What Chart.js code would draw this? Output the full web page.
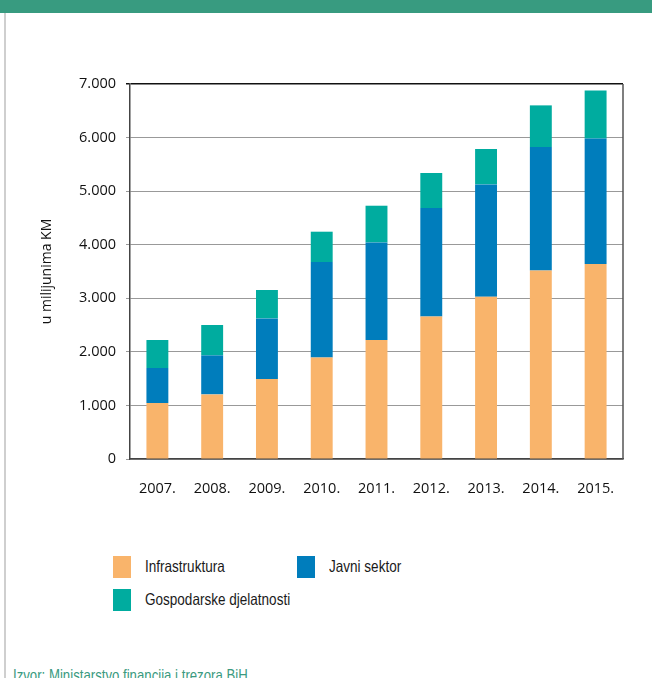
<!DOCTYPE html>
<html>
<head>
<meta charset="utf-8">
<script src="https://cdn.jsdelivr.net/npm/chart.js@4/dist/chart.umd.min.js"></script>
<style>
  body { margin:0; width:652px; height:678px; overflow:hidden; background:#fff; position:relative; font-family:"Open Sans", sans-serif; }
  #band { position:absolute; left:0; top:0; width:652px; height:13px; background:#389b80; }
  #frame { position:absolute; left:4px; top:13px; width:2px; height:665px; background:#cfcfcf; }
  #wrap { position:absolute; left:0; top:0; width:652px; height:520px; }
  #legend { position:absolute; left:0; top:0; font-family:"Liberation Sans", sans-serif; font-size:16.5px; color:#1a1a1a; }
  .item { position:absolute; white-space:nowrap; }
  .item span.box { position:absolute; left:0; top:0; width:18px; height:22px; }
  .item span.txt { position:absolute; left:32px; top:1px; transform:scaleX(0.82); transform-origin:left center; }
  #src { position:absolute; left:13px; top:666px; font-family:"Liberation Sans", sans-serif; font-size:16.5px; color:#3a9a80; white-space:nowrap; transform:scaleX(0.8); transform-origin:left center; }
</style>
</head>
<body>
<div id="band"></div>
<div id="frame"></div>
<div id="wrap"><canvas id="chart" width="652" height="520"></canvas></div>
<div id="legend"></div>
<div id="src">Izvor: Ministarstvo financija i trezora BiH</div>
<script>
// godine
const years = ["2007.", "2008.", "2009.", "2010.", "2011.", "2012.", "2013.", "2014.", "2015."];
// u milijunima KM, procjena s grafikona
const infrastruktura = [1045, 1206, 1493, 1897, 2221, 2662, 3030, 3521, 3640];
const javniSektor = [654, 728, 1132, 1780, 1822, 2023, 2096, 2303, 2345];
const gospodarske = [522, 567, 530, 566, 685, 654, 661, 777, 896];
const seriesNames = ["Infrastruktura", "Javni sektor", "Gospodarske djelatnosti"];
const seriesColors = ["#f9b46b", "#007dbc", "#00ac9f"];
const yTicks = [0, 1000, 2000, 3000, 4000, 5000, 6000, 7000];

const fmt = (v) => v === 0 ? "0" : v.toLocaleString("de-DE");

// okvir oko podrucja grafa (desna strana)
const frameLines = {
  id: "frameLines",
  afterDraw(chart) {
    const { ctx, chartArea } = chart;
    ctx.save();
    ctx.strokeStyle = "#555";
    ctx.lineWidth = 1.5;
    ctx.beginPath();
    ctx.moveTo(chartArea.right, chartArea.top);
    ctx.lineTo(chartArea.right, chartArea.bottom);
    ctx.stroke();
    ctx.restore();
  }
};

const allSeries = [infrastruktura, javniSektor, gospodarske];

const chart = new Chart(document.getElementById("chart"), {
  type: "bar",
  data: {
    labels: years,
    datasets: allSeries.map((d, i) => ({
      label: seriesNames[i],
      data: d,
      backgroundColor: seriesColors[i],
      borderWidth: 0,
      barPercentage: 0.4,
      categoryPercentage: 1
    }))
  },
  options: {
    responsive: false,
    animation: false,
    events: [],
    layout: { padding: { left: 35, right: 29, top: 84, bottom: 0 } },
    plugins: { legend: { display: false }, tooltip: { enabled: false } },
    scales: {
      x: {
        stacked: true,
        grid: { display: false },
        border: { color: "#444", width: 1.5 },
        ticks: { color: "#111", font: { family: "Open Sans", size: 14.5 }, padding: 13, maxRotation: 0 },
        afterFit(scale) { scale.height = 61; }
      },
      y: {
        stacked: true,
        min: 0,
        max: 7000,
        afterBuildTicks(scale) { scale.ticks = yTicks.map(v => ({ value: v })); },
        grid: {
          color: (c) => c.tick && c.tick.value === 7000 ? "#111" : "#999",
          lineWidth: (c) => c.tick && c.tick.value === 7000 ? 1.5 : 1,
          tickLength: 4
        },
        border: { color: "#444", width: 1.5 },
        ticks: { color: "#111", font: { family: "Open Sans", size: 14.5 }, padding: 10, callback: (v) => fmt(v) },
        title: { display: true, text: "u milijunima KM", color: "#111", font: { family: "Open Sans", size: 14 }, padding: 4 },
        afterFit(scale) { scale.width = 95; }
      }
    }
  },
  plugins: [frameLines]
});

// legenda
const legendPos = [[113, 556], [297, 556], [113, 589]];
const legend = document.getElementById("legend");
seriesNames.forEach((name, i) => {
  const it = document.createElement("div");
  it.className = "item";
  it.style.left = legendPos[i][0] + "px";
  it.style.top = legendPos[i][1] + "px";
  it.innerHTML = `<span class="box" style="background:${seriesColors[i]}"></span><span class="txt">${name}</span>`;
  legend.appendChild(it);
});
</script>
</body>
</html>
